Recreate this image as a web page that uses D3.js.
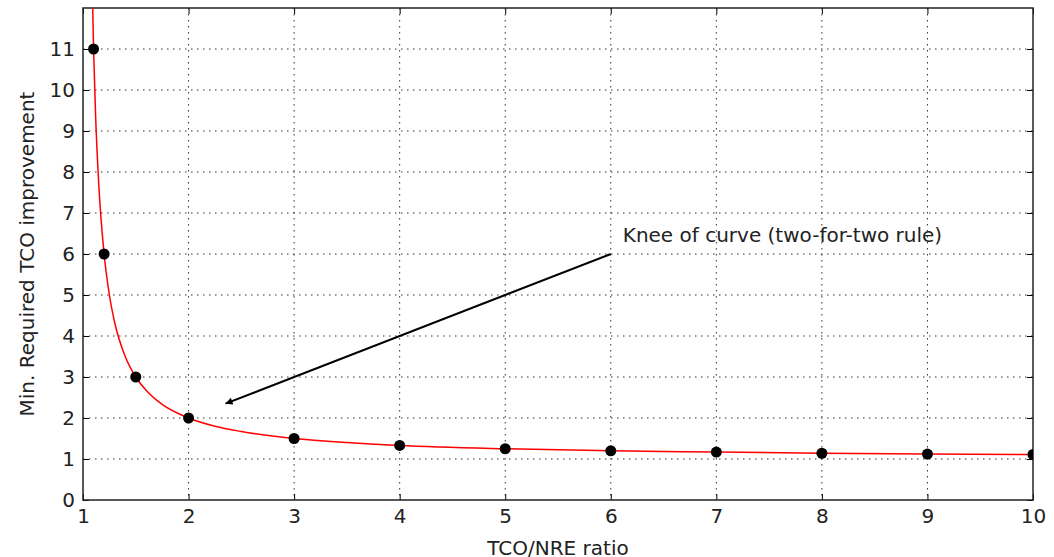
<!DOCTYPE html>
<html>
<head>
<meta charset="utf-8">
<script src="https://cdn.jsdelivr.net/npm/d3@7"></script>
<style>
body { margin: 0; background: #fff; }
text { font-family: "DejaVu Sans", sans-serif; fill: #222; }
</style>
</head>
<body>
<script>
var margin = {top: 8, right: 21, bottom: 57, left: 83};
var width = 1054;
var height = 557;

// marked points
var ratios = [1.1, 1.2, 1.5, 2, 3, 4, 5, 6, 7, 8, 9, 10];
var improvements = [11, 6, 3, 2, 1.5, 1.33, 1.25, 1.2, 1.17, 1.14, 1.12, 1.11];

// red curve
var curveX = [1.08, 1.1, 1.12, 1.15, 1.2, 1.25, 1.3, 1.4, 1.5, 1.6, 1.75, 2, 2.25, 2.5, 3, 3.5, 4, 5, 6, 7, 8, 9, 10];
var curveY = [13.5, 11, 9.33, 7.67, 6, 5, 4.33, 3.5, 3, 2.67, 2.33, 2, 1.8, 1.67, 1.5, 1.4, 1.33, 1.25, 1.2, 1.17, 1.14, 1.12, 1.11];

var xTicks = [1, 2, 3, 4, 5, 6, 7, 8, 9, 10];
var yTicks = [0, 1, 2, 3, 4, 5, 6, 7, 8, 9, 10, 11];

var noteText = "Knee of curve (two-for-two rule)";
var noteFrom = [6, 6];
var noteTo = [2.35, 2.35];

var xScale = d3.scaleLinear().domain([1, 10]).range([margin.left, width - margin.right]);
var yScale = d3.scaleLinear().domain([0, 12]).range([height - margin.bottom, margin.top]);

var svg = d3.select("body")
            .append("svg")
            .attr("width", width)
            .attr("height", height);

svg.append("defs").append("clipPath")
   .attr("id", "plotclip")
   .append("rect")
   .attr("x", margin.left)
   .attr("y", margin.top)
   .attr("width", width - margin.right - margin.left)
   .attr("height", height - margin.bottom - margin.top);

svg.append("defs").append("marker")
   .attr("id", "head")
   .attr("viewBox", "0 0 10 10")
   .attr("refX", 10).attr("refY", 5)
   .attr("markerWidth", 13).attr("markerHeight", 7)
   .attr("markerUnits", "userSpaceOnUse")
   .attr("orient", "auto")
   .append("path")
   .attr("d", "M0,0 L10,5 L0,10 Z")
   .attr("fill", "#000");

// grid
var grid = svg.append("g");
grid.selectAll(".gx").data(xTicks.slice(1, -1)).enter().append("line")
    .attr("x1", d => xScale(d)).attr("x2", d => xScale(d))
    .attr("y1", margin.top).attr("y2", height - margin.bottom)
    .attr("stroke", "#000").attr("stroke-width", 1)
    .attr("stroke-dasharray", "1.5,4.5").attr("opacity", 0.8);
grid.selectAll(".gy").data(yTicks.slice(1)).enter().append("line")
    .attr("x1", margin.left).attr("x2", width - margin.right)
    .attr("y1", d => yScale(d)).attr("y2", d => yScale(d))
    .attr("stroke", "#000").attr("stroke-width", 1)
    .attr("stroke-dasharray", "1.5,4.5").attr("opacity", 0.8);

// X axis
var xAxis = svg.append("g")
               .attr("transform", `translate(0, ${height - margin.bottom})`)
               .call(d3.axisBottom(xScale).tickValues(xTicks).tickSize(-6).tickPadding(9).tickFormat(d3.format("d")));

// Y axis
var yAxis = svg.append("g")
               .attr("transform", `translate(${margin.left}, 0)`)
               .call(d3.axisLeft(yScale).tickValues(yTicks).tickSize(-6).tickPadding(8).tickFormat(d3.format("d")));

// mirrored ticks on top and right
svg.append("g")
   .attr("transform", `translate(0, ${margin.top})`)
   .call(d3.axisTop(xScale).tickValues(xTicks).tickSize(-6).tickFormat(""));
svg.append("g")
   .attr("transform", `translate(${width - margin.right}, 0)`)
   .call(d3.axisRight(yScale).tickValues(yTicks).tickSize(-6).tickFormat(""));

svg.selectAll(".domain").remove();
svg.selectAll(".tick line").attr("stroke", "#000");
svg.selectAll(".tick text").style("font-size", "20px").style("font-family", "DejaVu Sans").attr("fill", "#222");

// frame
svg.append("rect")
   .attr("x", margin.left).attr("y", margin.top)
   .attr("width", width - margin.right - margin.left)
   .attr("height", height - margin.bottom - margin.top)
   .attr("fill", "none").attr("stroke", "#222").attr("stroke-width", 1.5);

// curve
var line_plot = d3.line()
                  .x(function(d, i) { return xScale(curveX[i]); })
                  .y(function(d) { return yScale(d); })
                  .curve(d3.curveMonotoneX);

var plot = svg.append("g").attr("clip-path", "url(#plotclip)");

plot.append("path")
    .attr("d", line_plot(curveY))
    .attr("fill", "none")
    .attr("stroke", "red")
    .attr("stroke-width", 1.5);

plot.selectAll(".pt").data(ratios).enter().append("circle")
    .attr("cx", d => xScale(d))
    .attr("cy", (d, i) => yScale(improvements[i]))
    .attr("r", 5.5)
    .attr("fill", "#000");

// annotation
svg.append("line")
   .attr("x1", xScale(noteFrom[0])).attr("y1", yScale(noteFrom[1]))
   .attr("x2", xScale(noteTo[0])).attr("y2", yScale(noteTo[1]))
   .attr("stroke", "#000").attr("stroke-width", 2)
   .attr("marker-end", "url(#head)");

svg.append("text")
   .attr("x", xScale(noteFrom[0]) + 12)
   .attr("y", yScale(noteFrom[1]) - 12)
   .style("font-size", "20px")
   .text(noteText);

// X label
svg.append("text")
   .attr("x", (margin.left + width - margin.right) / 2)
   .attr("y", 555)
   .style("text-anchor", "middle")
   .style("font-size", "20px")
   .text("TCO/NRE ratio");

// Y label
svg.append("text")
   .attr("transform", "rotate(-90)")
   .attr("x", -(margin.top + height - margin.bottom) / 2)
   .attr("y", 34)
   .style("text-anchor", "middle")
   .style("font-size", "20px")
   .text("Min. Required TCO improvement");
</script>
</body>
</html>
